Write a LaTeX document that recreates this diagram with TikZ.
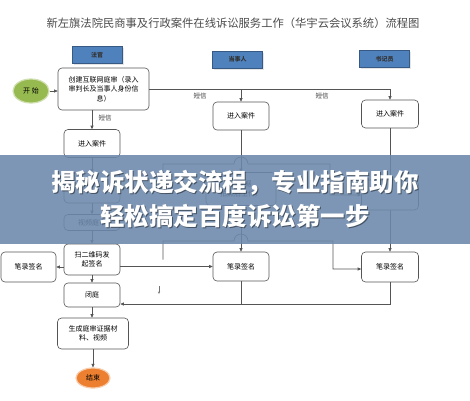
\documentclass[tikz,border=0pt]{standalone}
\usepackage{fontspec}
\setmainfont{Noto Sans CJK SC}
\usetikzlibrary{arrows.meta,shapes.geometric,shadows}
\definecolor{hdrblue}{RGB}{79,129,189}
\definecolor{startgreen}{RGB}{150,185,80}
\definecolor{endorange}{RGB}{236,128,48}
\definecolor{bandblue}{RGB}{108,136,171}
\definecolor{boxline}{RGB}{85,85,85}
\begin{document}
\begin{tikzpicture}[x=1pt,y=-1pt,
  font=\fontsize{7}{9.5}\selectfont,
  box/.style={draw=boxline,line width=.6pt,rounded corners=4pt,fill=white,align=center,inner sep=1pt},
  hdr/.style={fill=hdrblue,draw=hdrblue!70!black,line width=.4pt,minimum width=50,minimum height=17,
    font=\fontsize{6}{7}\selectfont\bfseries,text=black!80,
    drop shadow={shadow xshift=1.5pt,shadow yshift=-1.5pt,fill=black!20}},
  link/.style={draw=boxline,line width=.6pt},
  arr/.style={link,-{Triangle[length=3.5pt,width=3pt]}},
  tag/.style={font=\fontsize{6.5}{8}\selectfont,text=black!75},
  bigtxt/.style={font=\fontsize{24.5}{26}\selectfont\bfseries,text=white,inner sep=0pt},
  bigshade/.style={bigtxt,text=black,opacity=.45}]
  \useasboundingbox (0,0) rectangle (470,400);
  \fill[white] (0,0) rectangle (470,400);
  \node[font=\fontsize{11.3}{12}\selectfont,text=black!70] (title) at (233,23) {新左旗法院民商事及行政案件在线诉讼服务工作（华宇云会议系统）流程图};
  % lane headers
  \node[hdr] (judge) at (97,55) {法官};
  \node[hdr] (party) at (237.5,59.5) {当事人};
  \node[hdr] (clerk) at (384.5,59) {书记员};
  % judge lane
  \node[ellipse,fill=startgreen,draw=startgreen!45!white,line width=1.2pt,minimum width=36,minimum height=24] (start) at (31,91) {开 始};
  \node[box,minimum width=91,minimum height=42] (create) at (103.5,89) {创建互联网庭审（录入\\审判长及当事人身份信\\息）};
  \node[box,minimum width=56,minimum height=28] (jin) at (92,143.5) {进入案件};
  \node[box,minimum width=56,minimum height=30] (jmid) at (92,188) {};
  \node[box,minimum width=56,minimum height=16] (video) at (92,222.5) {视频庭审};
  \node[box,minimum width=56,minimum height=31] (scan) at (92,259.5) {扫二维码发\\起签名};
  \node[box,minimum width=55,minimum height=30] (jsign) at (28.5,267) {笔录签名};
  \node[box,minimum width=56,minimum height=24] (close) at (92,295) {闭庭};
  \node[box,minimum width=71,minimum height=31] (make) at (93,333.5) {生成庭审证据材\\料、视频};
  \node[ellipse,fill=endorange,draw=endorange!40!white,line width=1.2pt,minimum width=34,minimum height=20] (end) at (93,378) {结束};
  % party lane
  \node[box,minimum width=56,minimum height=28] (pin) at (241,116) {进入案件};
  \node[box,minimum width=70,minimum height=33] (evid) at (241,189) {（证据\\拍照后上传）};
  \node[box,minimum width=56,minimum height=29] (psign) at (241,266.5) {笔录签名};
  % clerk lane
  \node[box,minimum width=57,minimum height=28] (cin) at (390,114) {进入案件};
  \node[box,minimum width=57,minimum height=30] (cmid) at (390,195) {};
  \node[box,minimum width=57,minimum height=30] (csign) at (390,267) {笔录签名};
  % connectors
  \draw[arr] (start.east) -- (start.east -| create.west);
  \draw[arr] (create.east) -| (cin.north);
  \draw[arr] (create.east -| pin.north) -- (pin.north);
  \draw[arr] (create.south -| jin.north) -- (jin.north);
  \node[tag] (sms1) at (200,96) {短信};
  \node[tag] (sms2) at (322,96) {短信};
  \node[tag] (sms3) at (105,118) {短信};
  \draw[arr] (jin) -- (jmid);
  \draw[arr] (jmid) -- (video);
  \draw[arr] (video) -- (scan);
  \draw[arr] (pin) -- (evid);
  \draw[arr] (evid) -- (psign);
  \draw[arr] (cin) -- (cmid);
  \draw[arr] (cmid) -- (csign);
  \coordinate (hopA) at (163,164);
  \draw[arr] (jmid.east) -| (hopA) -- (234,164) arc[start angle=180,end angle=360,radius=7] -- (330,164) |- (cmid.west);
  \draw[arr] (scan.east |- psign) -- (psign.west);
  \coordinate (hopB) at (163,241);
  \draw[arr] (scan.east -| hopB) -- (hopB) -- (234,241) arc[start angle=180,end angle=360,radius=7] -- (333,241) |- ([yshift=-2pt]csign.west);
  \draw[arr] (scan.west |- jsign) -- (jsign.east);
  \draw[arr] (scan) -- (close);
  \draw[arr] (close.south) -- (close.south |- make.north);
  \draw[arr] (make.south -| end.north) -- (end.north);
  \coordinate (ret) at ([yshift=-9pt]close.east);
  \draw[arr] (csign.south) |- (ret);
  \draw[link] (psign.south) -- (psign.south |- ret);
  \coordinate (stray) at (159,286);
  \draw[draw=black!55,line width=.4pt,-{Stealth[length=2.5pt,width=2pt]}] (stray) -- ++(0,8);
  % overlay band
  \fill[bandblue,opacity=.88] (0,155) rectangle (470,244);
  \node[bigshade] at (236,184) {揭秘诉状递交流程，专业指南助你};
  \node[bigshade] at (236,217) {轻松搞定百度诉讼第一步};
  \node[bigtxt] (head1) at (235,183) {揭秘诉状递交流程，专业指南助你};
  \node[bigtxt] (head2) at (235,216) {轻松搞定百度诉讼第一步};
\end{tikzpicture}
\end{document}
